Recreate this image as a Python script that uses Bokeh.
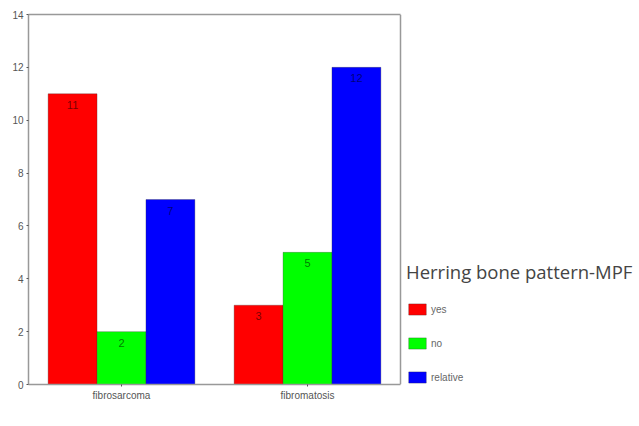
from bokeh.plotting import figure
from bokeh.models import (ColumnDataSource, Range1d, Legend, LegendItem, FixedTicker,
                          LinearAxis, Span)
from bokeh.core.properties import value
from bokeh.embed import file_html
from bokeh.resources import INLINE

categories = ["fibrosarcoma", "fibromatosis"]
yes = [11, 3]
no = [2, 5]
relative = [7, 12]
series_names = ["yes", "no", "relative"]
series_colors = ["#ff0000", "#00ff00", "#0000ff"]
y_ticks = [0, 2, 4, 6, 8, 10, 12, 14]

n_cat = len(categories)
centers = [i + 0.5 for i in range(n_cat)]
bw = 0.263
offsets = [-bw, 0.0, bw]

data = dict(center=centers)
for name, vals, off in zip(series_names, [yes, no, relative], offsets):
    data[name] = vals
    data[name + "_x"] = [c + off for c in centers]
    data[name + "_t"] = [str(v) for v in vals]
source = ColumnDataSource(data)

# frame spans the full width so the legend to the right of the plot box is not clipped;
# the plot box itself covers categories 0..n_cat
p = figure(width=639, height=426, x_range=Range1d(0, n_cat * 611 / 372), y_range=Range1d(0, 14),
           output_backend="svg", toolbar_location=None,
           min_border_left=28, min_border_top=14, min_border_bottom=42, min_border_right=0)
p.outline_line_color = None
p.xgrid.visible = False
p.ygrid.visible = False

renderers = []
for name, col in zip(series_names, series_colors):
    r = p.vbar(x=name + "_x", top=name, width=bw, source=source,
               fill_color=col, line_color="#333333", line_width=0.6, line_alpha=0.5)
    renderers.append(r)
    p.text(x=name + "_x", y=name, text=name + "_t", source=source,
           text_align="center", text_baseline="middle", y_offset=11,
           text_font=value("Liberation Sans"), text_font_size="11px",
           text_color="#000000", text_alpha=0.55)

for ax in (p.xaxis[0], p.yaxis[0]):
    ax.axis_line_color = "#999999"
    ax.axis_line_width = 1.5
    ax.major_tick_line_color = "#555555"
    ax.major_tick_in = 0
    ax.major_tick_out = 2
    ax.minor_tick_line_color = None
    ax.major_label_text_font = "Liberation Sans"
    ax.major_label_text_font_size = "10px"
    ax.major_label_text_color = "#555555"
    ax.major_label_standoff = 3
p.yaxis.ticker = FixedTicker(ticks=y_ticks)
p.xaxis.bounds = (0, n_cat)
p.xaxis.ticker = FixedTicker(ticks=centers)
p.xaxis.major_label_overrides = {c: lab for c, lab in zip(centers, categories)}

# top edge of the plot box
top_ax = LinearAxis(bounds=(0, n_cat), ticker=FixedTicker(ticks=[]),
                    axis_line_color="#999999", axis_line_width=1.5,
                    major_tick_line_color=None, minor_tick_line_color=None,
                    major_label_standoff=0)
p.add_layout(top_ax, "above")
# right edge of the plot box
p.add_layout(Span(location=n_cat, dimension="height", line_color="#999999", line_width=1.5))

legend = Legend(items=[LegendItem(label=n, renderers=[r]) for n, r in zip(series_names, renderers)],
                location=(378, 0), title="Herring bone pattern-MPF",
                title_text_font="Open Sans", title_text_font_size="18.5px",
                title_text_font_style="normal", title_text_color="#444444",
                title_standoff=18,
                label_text_font="Liberation Sans", label_text_font_size="10px",
                label_text_color="#666666", label_standoff=3,
                glyph_width=22, glyph_height=14, label_height=14, spacing=20,
                padding=0, margin=0, border_line_color=None, background_fill_alpha=0)
p.add_layout(legend, "center")

open("out.html", "w").write(file_html(p, INLINE))
